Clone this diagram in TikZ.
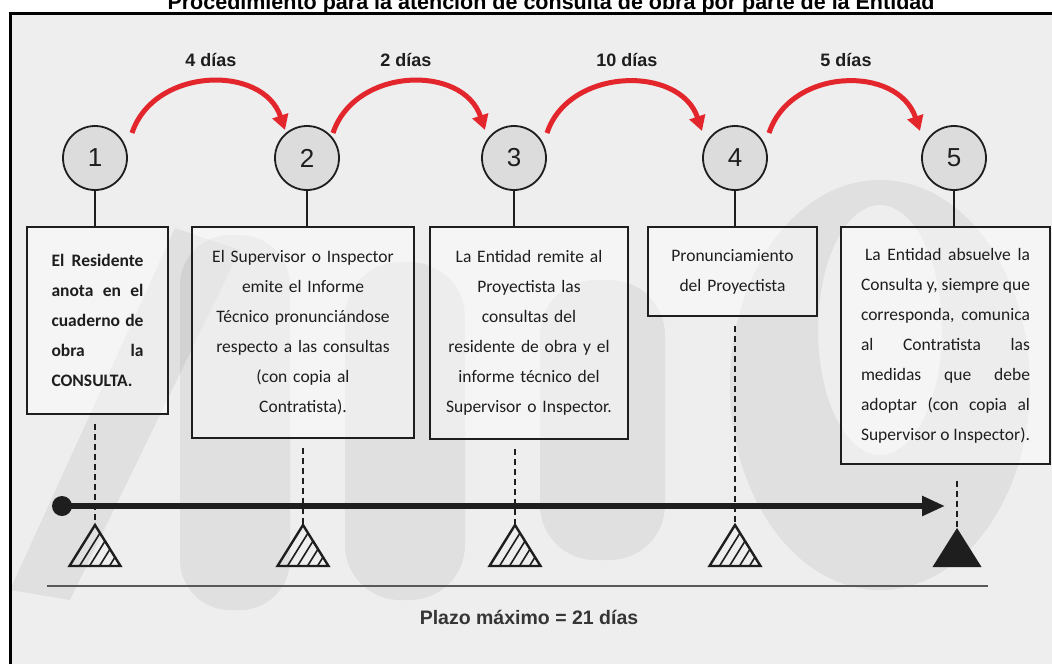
\documentclass[tikz,border=0pt]{standalone}
\usepackage{fontspec}
\setmainfont{Carlito}
\newfontfamily\arialf{Liberation Sans}
\usetikzlibrary{arrows.meta,calc}
\definecolor{bg}{HTML}{EEEEEE}
\definecolor{redarc}{HTML}{E3262B}
\definecolor{ink}{HTML}{1E1E1E}
\definecolor{circfill}{HTML}{DCDCDC}
\newcommand\jl[2]{\makebox[#1][s]{\spaceskip=.22em plus 1fill\relax #2}}
\newcommand\hatchtri[1]{%
  \begin{scope}
    \clip ($(#1)+(-25.5,41)$) -- (#1) -- ($(#1)+(25.5,41)$) -- cycle;
    \foreach \k in {1,...,4}
      \draw[ink, line width=1.6pt] ($(#1)+(-25.5+10*\k,41)$) -- ++(25.5,-41);
  \end{scope}
  \draw[ink, line width=2.4pt, line join=miter] ($(#1)+(-25.5,41)$) -- (#1) -- ($(#1)+(25.5,41)$) -- cycle;
}
\tikzset{
  stepcircle/.style={circle, draw=ink, line width=1.8pt, fill=circfill, minimum size=64pt, inner sep=0pt,
    font=\arialf\fontsize{26}{26}\selectfont, text=ink},
  stepbox/.style={draw=ink, line width=1.8pt, fill=white, fill opacity=0.45, text opacity=1, anchor=north,
    inner ysep=0pt, font=\fontsize{17.5}{30}\selectfont, text=ink},
  conn/.style={ink, line width=1.5pt},
  dashline/.style={ink, line width=1.5pt, dash pattern=on 6pt off 4pt, shorten <=9pt},
  redarrow/.style={redarc, line width=5pt, -{Triangle[length=15pt,width=16pt]}},
  daylab/.style={anchor=base, font=\arialf\bfseries\fontsize{18}{18}\selectfont, text=ink},
  wmark/.style={fill=black, opacity=0.06},
}
\begin{document}
\begin{tikzpicture}[x=1pt,y=-1pt]
\useasboundingbox (0,0) rectangle (1052,664);
\clip (0,0) rectangle (1052,664);
\fill[white] (0,0) rectangle (1052,664);
\fill[bg] (10,14) rectangle (1052,664);

% faint watermark in the background
\fill[wmark] (10,590) -- (70,600) -- (240,250) -- (175,228) -- cycle;
\fill[wmark, rounded corners=50pt] (180,235) rectangle (290,610);
\fill[wmark, rounded corners=55pt] (345,262) rectangle (465,600);
\fill[wmark, rounded corners=55pt] (540,280) rectangle (665,560);
\fill[wmark, even odd rule] (880,385) ellipse [x radius=150pt, y radius=205pt]
  (880,330) ellipse [x radius=62pt, y radius=125pt];

\draw[black, line width=3pt] (10.5,664) -- (10.5,13.5) -- (1052,13.5);

% title (cut at the top as in the reference)
\node[anchor=base, font=\arialf\bfseries\fontsize{21.5}{22}\selectfont, text=black] (title) at (551,9.5)
  {Procedimiento para la atención de consulta de obra por parte de la Entidad};

% step circles
\node[stepcircle] (c1) at (95,158) {1};
\node[stepcircle] (c2) at (307,158) {2};
\node[stepcircle] (c3) at (514,158) {3};
\node[stepcircle] (c4) at (735,158) {4};
\node[stepcircle] (c5) at (954,158) {5};

% day labels
\node[daylab] (d1) at (211,66) {4 días};
\node[daylab] (d2) at (406,66) {2 días};
\node[daylab] (d3) at (627,66) {10 días};
\node[daylab] (d4) at (846,66) {5 días};

% red arcs
\draw[redarrow] ($(c1)+(37,-25)$) .. controls +(22,-66) and +(-22,-66) .. ($(c2)+(-22,-28)$);
\draw[redarrow] ($(c2)+(26,-25)$) .. controls +(22,-66) and +(-22,-66) .. ($(c3)+(-29,-28)$);
\draw[redarrow] ($(c3)+(33,-25)$) .. controls +(22,-66) and +(-22,-66) .. ($(c4)+(-33,-27)$);
\draw[redarrow] ($(c4)+(34,-25)$) .. controls +(22,-66) and +(-22,-66) .. ($(c5)+(-34,-27)$);

% boxes
\node[stepbox, text width=92pt, inner xsep=24.5pt, minimum height=187pt, align=left,
  font=\bfseries\fontsize{17.5}{30}\selectfont] (b1) at (97.5,226)
  {\jl{92pt}{El Residente}\\\jl{92pt}{anota en el}\\\jl{92pt}{cuaderno de}\\\jl{92pt}{obra la}\\CONSULTA.};
\node[stepbox, text width=202pt, inner xsep=10pt, minimum height=211pt, align=center] (b2) at (303,226)
  {El Supervisor o Inspector\\emite el Informe\\Técnico pronunciándose\\respecto a las consultas\\(con copia al\\Contratista).};
\node[stepbox, text width=178pt, inner xsep=10pt, minimum height=212pt, align=center] (b3) at (529,226)
  {La Entidad remite al\\Proyectista las\\consultas del\\residente de obra y el\\informe técnico del\\Supervisor o Inspector.};
\node[stepbox, text width=149pt, inner xsep=10pt, minimum height=89pt, align=center] (b4) at (732.5,226)
  {Pronunciamiento\\del Proyectista};
\node[stepbox, text width=169pt, inner xsep=20pt, minimum height=237pt, align=left] (b5) at (945.5,226)
  {\hspace*{4pt}\jl{165pt}{La Entidad absuelve la}\\\jl{169pt}{Consulta y, siempre que}\\\jl{169pt}{corresponda, comunica}\\\jl{169pt}{al Contratista las}\\\jl{169pt}{medidas que debe}\\\jl{169pt}{adoptar (con copia al}\\\jl{169pt}{Supervisor o Inspector).}};

% solid connectors circle -> box
\foreach \i in {1,...,5}
  \draw[conn] (c\i.south) -- (c\i.south |- b\i.north);

% triangle apex coordinates
\coordinate (t1) at (95,525);
\coordinate (t2) at (303,525);
\coordinate (t3) at (515,525);
\coordinate (t4) at (735,525);
\coordinate (t5) at (957,528);

% dashed connectors box -> triangle
\draw[dashline] (t1 |- b1.south) -- (t1);
\draw[dashline] (t2 |- b2.south) -- (t2);
\draw[dashline] (t3 |- b3.south) -- (t3);
\draw[dashline] (t4 |- b4.south) -- (t4);
\draw[dashline, shorten <=16pt] (t5 |- b5.south) -- (t5);

% timeline
\node[circle, fill=ink, minimum size=20pt, inner sep=0pt] (dot) at (62,506) {};
\coordinate (tend) at (945,506);
\draw[ink, line width=5.5pt, -{Triangle[length=23pt,width=19pt]}] (dot.center) -- (tend);

% milestones
\hatchtri{t1}
\hatchtri{t2}
\hatchtri{t3}
\hatchtri{t4}
\fill[ink] ($(t5)+(-24.5,39)$) -- (t5) -- ($(t5)+(24.5,39)$) -- cycle;

% total line and label
\coordinate (g1) at (47,586);
\coordinate (g2) at (988,586);
\draw[line width=2pt, color=black!65] (g1) -- (g2);
\node[anchor=base, font=\arialf\bfseries\fontsize{19.5}{20}\selectfont, text=ink!90] (plazo) at (529,624)
  {Plazo máximo = 21 días};
\end{tikzpicture}
\end{document}
